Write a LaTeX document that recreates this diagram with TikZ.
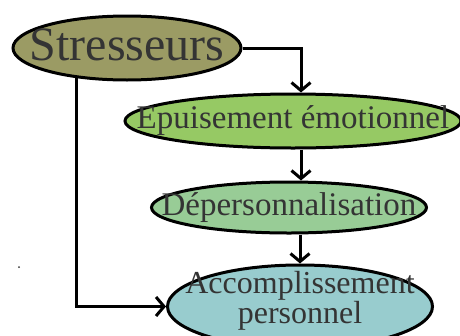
\documentclass[tikz,border=0pt]{standalone}
\usepackage{fontspec}
\setmainfont{Liberation Serif}
\usepackage{tikz}
\usetikzlibrary{arrows.meta, positioning, shapes}
\definecolor{stressfill}{RGB}{155,155,100}
\definecolor{epuisfill}{RGB}{150,201,100}
\definecolor{depfill}{RGB}{152,204,150}
\definecolor{accfill}{RGB}{152,204,206}
\definecolor{txtgray}{RGB}{52,52,52}
\tikzstyle{bulle} = [ellipse, draw, line width=3pt, inner sep=0pt]
\tikzstyle{stressbox} = [bulle, fill=stressfill, minimum width=228pt, minimum height=64pt]
\tikzstyle{epuisbox} = [bulle, fill=epuisfill, minimum width=336pt, minimum height=54pt]
\tikzstyle{depbox} = [bulle, fill=depfill, minimum width=275pt, minimum height=51pt]
\tikzstyle{accbox} = [bulle, fill=accfill, minimum width=265pt, minimum height=83pt]
\tikzstyle{lbl} = [text=txtgray, inner sep=0pt, align=center]
\tikzstyle{arrow} = [line width=3pt, -{Straight Barb[length=8pt, width=19pt]}]

\begin{document}
\begin{tikzpicture}[x=1pt, y=-1pt]
\useasboundingbox (0,0) rectangle (460,335);

\node(S)[stressbox, label={[lbl, font=\fontsize{48pt}{50pt}\selectfont, yshift=3pt]center:Stresseurs}] at (127,48) {};
\node(E)[epuisbox, below = 11pt of S, xshift=166pt, label={[lbl, font=\fontsize{33pt}{35pt}\selectfont]center:Epuisement émotionnel}] {};
\node(D)[depbox, below = 31pt of E, xshift=-4pt, label={[lbl, font=\fontsize{33pt}{35pt}\selectfont]center:Dépersonnalisation}] {};
\node(A)[accbox, below = 29pt of D, xshift=11pt, label={[lbl, font=\fontsize{32pt}{30pt}\selectfont, yshift=6pt]center:Accomplissement\\personnel}] {};

\node(dot)[circle, fill=txtgray, inner sep=0pt, minimum size=2pt] at (19,267) {};

\draw [arrow] (S.east) -| ([xshift=8pt]E.north);
\draw [arrow] ([xshift=8pt]E.south) -- ([xshift=8pt]E.south |- D.north);
\draw [arrow] ([xshift=11pt]D.south) -- (A.north);
\draw [arrow] (S.211) |- (A.west);

\end{tikzpicture}
\end{document}
